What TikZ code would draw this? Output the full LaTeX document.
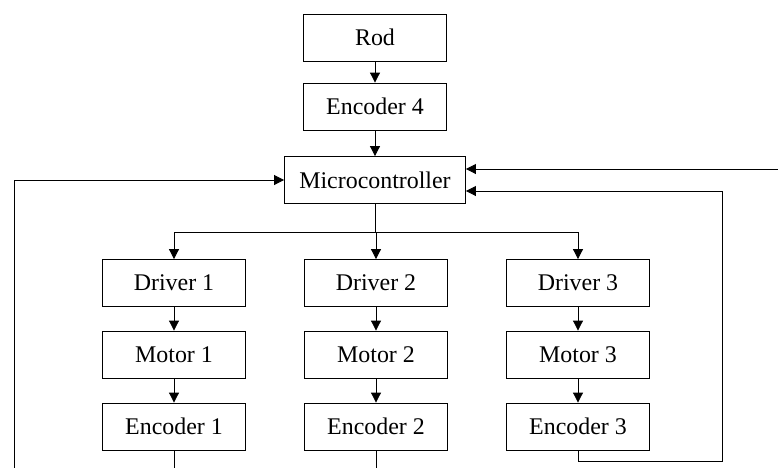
\documentclass[tikz,border=0pt]{standalone}
\usepackage{fontspec}
\setmainfont{Liberation Serif}
\usetikzlibrary{positioning,calc,arrows.meta}
\tikzset{
  blk/.style={draw, line width=0.6pt, minimum width=3.575cm, minimum height=1.175cm, inner sep=0pt, font=\fontsize{17}{20}\selectfont},
  arr/.style={line width=0.6pt, -{Triangle[length=7pt,width=7pt]}},
  ln/.style={line width=0.6pt}
}
\begin{document}
\begin{tikzpicture}[x=0.025cm,y=-0.025cm]
\useasboundingbox (0,0) rectangle (778,468);

%top
\node[blk] (rod) at (375,37.5) {Rod};
\node[blk] (enc4) at (375,106.5) {Encoder 4};
\node[blk, minimum width=4.525cm] (mcu) at (375,180) {Microcontroller};

%columns
\node[blk] (drv1) at (174,283) {Driver 1};
\node[blk] (drv2) at (376,283) {Driver 2};
\node[blk] (drv3) at (578,283) {Driver 3};
\node[blk] (mot1) at (174,354.5) {Motor 1};
\node[blk] (mot2) at (376,354.5) {Motor 2};
\node[blk] (mot3) at (578,354.5) {Motor 3};
\node[blk] (enc1) at (174,426.5) {Encoder 1};
\node[blk] (enc2) at (376,426.5) {Encoder 2};
\node[blk] (enc3) at (578,426.5) {Encoder 3};

%free ends
\coordinate (split) at (375,232);
\coordinate (fbL) at (14,468);
\coordinate (inR) at (778,169);
\coordinate (fbR) at (722,461);
\coordinate (fbRtop) at (722,191);

%arrows
\draw[arr] (rod) -- (enc4);
\draw[arr] (enc4) -- (mcu);
\draw[ln] (mcu) -- (split);
\draw[arr] (split) -| (drv1);
\draw[arr] (split) -| (drv2);
\draw[arr] (split) -| (drv3);
\foreach \i in {1,2,3}{
  \draw[arr] (drv\i) -- (mot\i);
  \draw[arr] (mot\i) -- (enc\i);
}

%feedback
\draw[ln] (enc1.south) -- (enc1.south |- fbL);
\draw[ln] (enc2.south) -- (enc2.south |- fbL);
\draw[arr] (fbL) |- (mcu.west);
\draw[arr] (inR) -- (inR -| mcu.east);
\draw[arr] (enc3.south) |- (fbR) -- (fbRtop) -- (fbRtop -| mcu.east);
\end{tikzpicture}
\end{document}
